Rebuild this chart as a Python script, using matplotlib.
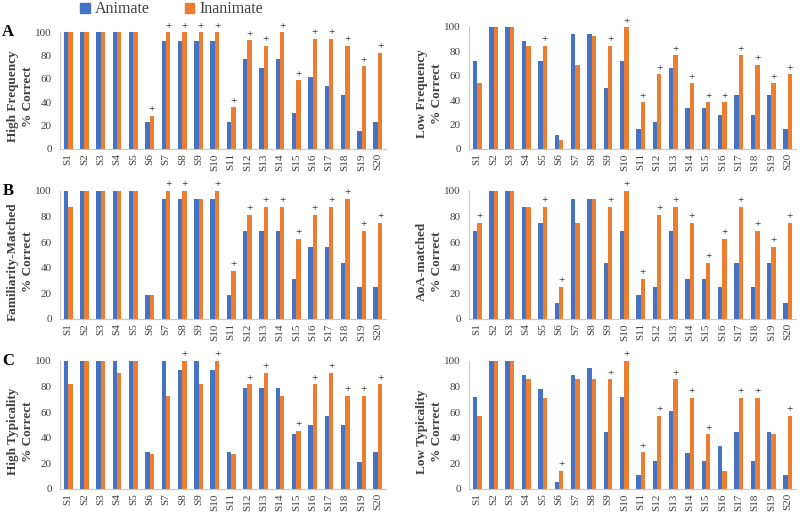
import numpy as np
import matplotlib
matplotlib.use("Agg")
import matplotlib.pyplot as plt
from matplotlib.patches import Patch

plt.rcParams['font.family'] = ['Liberation Serif', 'DejaVu Serif']

subjects = ['S%d' % i for i in range(1, 21)]

# High Frequency
hf_anim = [100, 100, 100, 100, 100, 23.1, 92.3, 92.3, 92.3, 92.3, 23.1, 76.9, 69.2, 76.9, 30.8, 61.5, 53.8, 46.2, 15.4, 23.1]
hf_inan = [100, 100, 100, 100, 100, 28.6, 100, 100, 100, 100, 35.7, 92.9, 88.2, 100, 58.8, 94.1, 94.1, 88.2, 70.6, 82.4]
hf_plus = [6, 7, 8, 9, 10, 11, 12, 13, 14, 15, 16, 17, 18, 19, 20]

# Low Frequency
lf_anim = [72.2, 100, 100, 88.9, 72.2, 11.1, 94.4, 94.4, 50.0, 72.2, 16.7, 22.2, 66.7, 33.3, 33.3, 27.8, 44.4, 27.8, 44.4, 16.7]
lf_inan = [53.8, 100, 100, 84.6, 84.6, 7.7, 69.2, 92.3, 84.6, 100, 38.5, 61.5, 76.9, 53.8, 38.5, 38.5, 76.9, 69.2, 53.8, 61.5]
lf_plus = [5, 9, 10, 11, 12, 13, 14, 15, 16, 17, 18, 19, 20]

# Familiarity-Matched
fm_anim = [100, 100, 100, 100, 100, 18.75, 93.75, 93.75, 93.75, 93.75, 18.75, 68.75, 68.75, 68.75, 31.25, 56.25, 56.25, 43.75, 25, 25]
fm_inan = [87.5, 100, 100, 100, 100, 18.75, 100, 100, 93.75, 100, 37.5, 81.25, 87.5, 87.5, 62.5, 81.25, 87.5, 93.75, 68.75, 75]
fm_plus = [7, 8, 10, 11, 12, 13, 14, 15, 16, 17, 18, 19, 20]

# AoA-matched
aoa_anim = [68.75, 100, 100, 87.5, 75, 12.5, 93.75, 93.75, 43.75, 68.75, 18.75, 25, 68.75, 31.25, 31.25, 25, 43.75, 25, 43.75, 12.5]
aoa_inan = [75, 100, 100, 87.5, 87.5, 25, 75, 93.75, 87.5, 100, 31.25, 81.25, 87.5, 75, 43.75, 62.5, 87.5, 68.75, 56.25, 75]
aoa_plus = [1, 5, 6, 9, 10, 11, 12, 13, 14, 15, 16, 17, 18, 19, 20]

# High Typicality
ht_anim = [100, 100, 100, 100, 100, 28.6, 100, 92.9, 100, 92.9, 28.6, 78.6, 78.6, 78.6, 42.9, 50, 57.1, 50, 21.4, 28.6]
ht_inan = [81.8, 100, 100, 90.9, 100, 27.3, 72.7, 100, 81.8, 100, 27.3, 81.8, 90.9, 72.7, 45.5, 81.8, 90.9, 72.7, 72.7, 81.8]
ht_plus = [8, 10, 12, 13, 15, 16, 17, 18, 19, 20]

# Low Typicality
lt_anim = [72.2, 100, 100, 88.9, 77.8, 5.6, 88.9, 94.4, 44.4, 72.2, 11.1, 22.2, 61.1, 27.8, 22.2, 33.3, 44.4, 22.2, 44.4, 11.1]
lt_inan = [57.1, 100, 100, 85.7, 71.4, 14.3, 85.7, 85.7, 85.7, 100, 28.6, 57.1, 85.7, 71.4, 42.9, 14.3, 71.4, 71.4, 42.9, 57.1]
lt_plus = [6, 9, 10, 11, 12, 13, 14, 15, 17, 18, 20]

blue = '#4472C4'
orange = '#ED7D31'

W, H = 800, 516
fig = plt.figure(figsize=(W / 100, H / 100), dpi=100)

def add_ax(x0, x1, ytop, ybot):
    return fig.add_axes([x0 / W, (H - ybot) / H, (x1 - x0) / W, (ybot - ytop) / H])

panels = [
    (add_ax(60, 386, 32, 149), hf_anim, hf_inan, hf_plus, 'High Frequency', 'A'),
    (add_ax(469, 796, 27, 149), lf_anim, lf_inan, lf_plus, 'Low Frequency', None),
    (add_ax(60, 386, 191, 319), fm_anim, fm_inan, fm_plus, 'Familiarity-Matched', 'B'),
    (add_ax(469, 796, 191, 319), aoa_anim, aoa_inan, aoa_plus, 'AoA-matched', None),
    (add_ax(60, 386, 361, 489), ht_anim, ht_inan, ht_plus, 'High Typicality', 'C'),
    (add_ax(469, 796, 361, 489), lt_anim, lt_inan, lt_plus, 'Low Typicality', None),
]

x = np.arange(len(subjects))
bw = 0.27
for ax, anim, inan, plus, label, letter in panels:
    ax.bar(x - bw / 2, anim, bw, color=blue)
    ax.bar(x + bw / 2, inan, bw, color=orange)
    for s in plus:
        ax.text(x[s - 1] + bw / 2, inan[s - 1] + 1, '+', ha='center', va='bottom',
                fontsize=8, color='black')
    ax.set_xlim(-0.5, len(subjects) - 0.5)
    ax.set_ylim(0, 100)
    ax.set_yticks([0, 20, 40, 60, 80, 100])
    ax.set_xticks(x)
    ax.set_xticklabels(subjects, rotation=90, fontsize=8, color='#404040')
    ax.tick_params(axis='y', labelsize=8, labelcolor='#404040', length=0, pad=6)
    ax.tick_params(axis='x', length=0, pad=3)
    for sp in ['top', 'right']:
        ax.spines[sp].set_visible(False)
    ax.spines['left'].set_color('#c8c8c8')
    ax.spines['bottom'].set_color('#c8c8c8')
    ax.set_ylabel(label + '\n% Correct', fontsize=9.5, fontweight='bold',
                  color='#404040', linespacing=1.3)
    ax.yaxis.set_label_coords(-0.08, 0.45)
    if letter:
        ax.text(-0.16, 1.0, letter, transform=ax.transAxes, fontsize=12,
                fontweight='bold', ha='center', va='center')

handles = [Patch(color=blue, label='Animate'), Patch(color=orange, label='Inanimate')]
fig.legend(handles=handles, loc='upper left', bbox_to_anchor=(66 / W, 1.025), ncol=2,
           frameon=False, fontsize=11.5, handlelength=0.6, handleheight=0.6,
           handletextpad=0.3, columnspacing=2.2, labelcolor='#404040')

fig.savefig('out.png', dpi=100)
